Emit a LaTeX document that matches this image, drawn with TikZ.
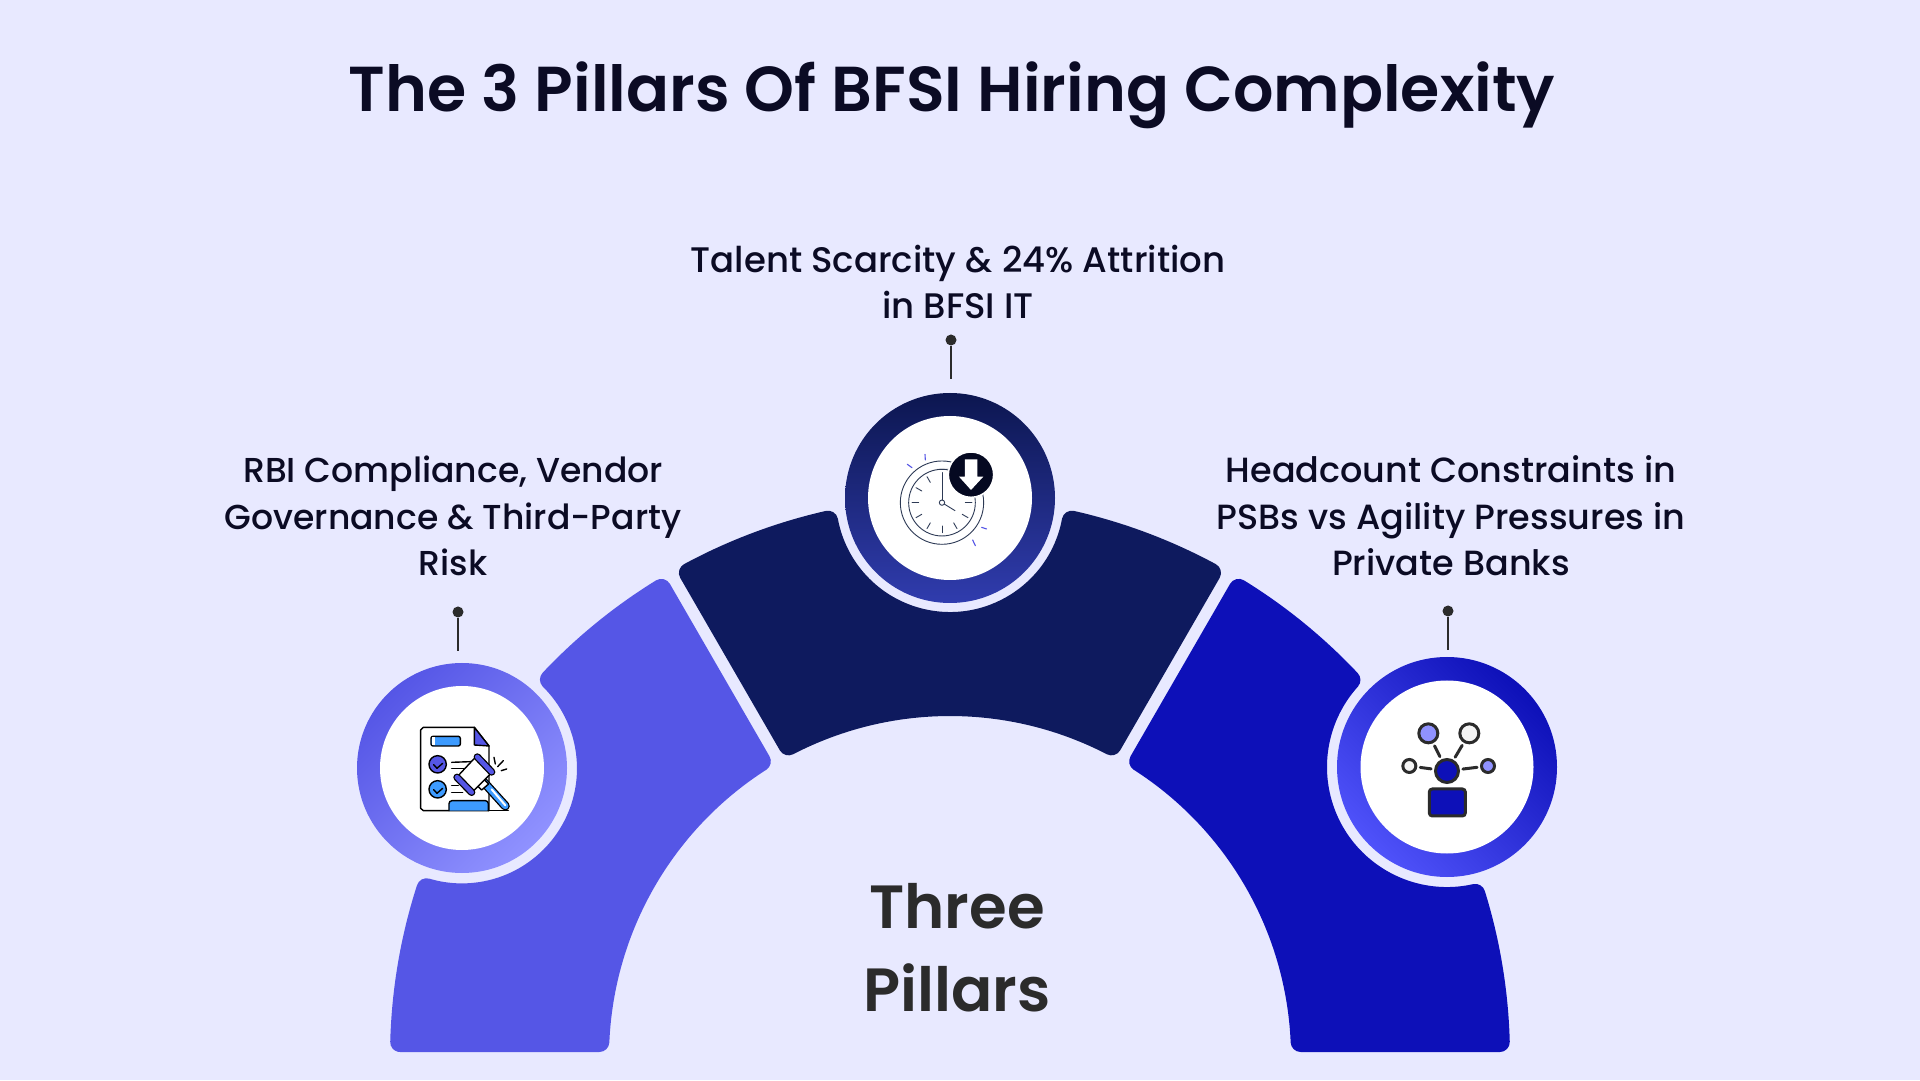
\documentclass[tikz,border=0pt]{standalone}
\usepackage{fontspec}
\setmainfont{Poppins Medium}[BoldFont={Poppins SemiBold}]
\usetikzlibrary{arrows.meta}
\definecolor{pagebg}{HTML}{E8E9FF}
\definecolor{inkdark}{HTML}{0B0B24}
\definecolor{inkgrey}{HTML}{2B2B2B}
\definecolor{leftband}{HTML}{5556E6}
\definecolor{midband}{HTML}{0E1A5E}
\definecolor{rightband}{HTML}{0D10B8}
\definecolor{paleband}{HTML}{9092FF}
\definecolor{midring}{HTML}{303CAE}
\definecolor{brightring}{HTML}{4F52FA}
\definecolor{iconblue}{HTML}{3D9BFF}
\definecolor{clockline}{HTML}{2D3A55}
\tikzset{band/.style = {line width=20pt, line join=round}}
\tikzset{ring/.style = {circle, inner sep=0pt}}
\tikzset{disc/.style = {circle, inner sep=0pt, fill=white}}
\tikzset{label/.style = {align=center, text=inkdark, font=\fontsize{34.6}{46.5}\selectfont}}
\tikzset{pindot/.style = {circle, inner sep=0pt, minimum size=11pt, fill=inkgrey}}
\tikzset{pinline/.style = {draw=inkgrey, line width=2pt}}
\tikzset{iconline/.style = {draw=black, line width=1.4pt, line cap=round, line join=round}}
\tikzset{clockpen/.style = {draw=clockline, line width=0.9pt, line cap=round}}
\tikzset{spark/.style = {draw=leftband, line width=1.1pt, line cap=round}}
\tikzset{hubnode/.style = {circle, inner sep=0pt, draw=inkgrey, line width=3pt}}
\tikzset{hublink/.style = {draw=inkgrey, line width=3pt, line cap=round, shorten >=3pt, shorten <=3pt}}
\begin{document}
\begin{tikzpicture}[x=1pt, y=1pt]
  \useasboundingbox (0,0) rectangle (1920,1080);
  \fill[pagebg] (0,0) rectangle (1920,1080);

  \node [font=\fontsize{63.5}{74}\selectfont\bfseries, text=inkdark] (title) at (952,985) {The 3 Pillars Of BFSI Hiring Complexity};

  \begin{scope}[shift={(950,23)}]
    \path[band, fill=leftband, draw=leftband] (178.44:550pt) -- (177.55:351pt)
      arc[start angle=177.55, end angle=122.61, radius=351pt] -- (121.67:550pt)
      arc[start angle=121.67, end angle=136.67, radius=550pt]
      arc[start angle=45.27, end angle=-106.47, radius=125pt]
      arc[start angle=162.13, end angle=178.44, radius=550pt] -- cycle;
    \path[band, fill=midband, draw=midband] (61.67:550pt)
      arc[start angle=61.67, end angle=77.2, radius=550pt]
      arc[start angle=349.46, end angle=190.54, radius=124pt]
      arc[start angle=102.8, end angle=118.33, radius=550pt] -- (117.39:351pt)
      arc[start angle=117.39, end angle=62.61, radius=351pt] -- cycle;
    \path[band, fill=rightband, draw=rightband] (1.56:550pt)
      arc[start angle=1.56, end angle=17.25, radius=550pt]
      arc[start angle=282.56, end angle=137.96, radius=130pt]
      arc[start angle=43.27, end angle=58.33, radius=550pt] -- (57.39:351pt)
      arc[start angle=57.39, end angle=2.45, radius=351pt] -- cycle;
  \end{scope}

  \node [ring, minimum size=210pt, top color=leftband, bottom color=paleband, shading angle=45] (ringL) at (462,312) {};
  \node [disc, minimum size=164pt] (discL) at (ringL) {};
  \node [ring, minimum size=210pt, top color=midband!85!black, bottom color=midring] (ringM) at (950,582) {};
  \node [disc, minimum size=164pt] (discM) at (ringM) {};
  \node [ring, minimum size=220pt, top color=rightband, bottom color=brightring, shading angle=-45] (ringR) at (1447,313) {};
  \node [disc, minimum size=173pt] (discR) at (ringR) {};

  \node [pindot] (pinL) at (458,468) {};
  \coordinate (pinLend) at (458,429);
  \draw[pinline] (pinL) -- (pinLend);
  \node [pindot] (pinM) at (951,740) {};
  \coordinate (pinMend) at (951,701);
  \draw[pinline] (pinM) -- (pinMend);
  \node [pindot] (pinR) at (1448,469) {};
  \coordinate (pinRend) at (1448,430);
  \draw[pinline] (pinR) -- (pinRend);

  \node [label] (textL) at (453,564) {RBI Compliance, Vendor\\Governance \& Third-Party\\Risk};
  \node [label, font=\fontsize{35.5}{46.5}\selectfont] (textM) at (958,798) {Talent Scarcity \& 24\% Attrition\\in BFSI IT};
  \node [label, font=\fontsize{35}{46.5}\selectfont] (textR) at (1451,564) {Headcount Constraints in\\PSBs vs Agility Pressures in\\Private Banks};

  \node [align=center, text=inkgrey, font=\fontsize{61}{83}\selectfont\bfseries] (centre) at (957,132) {Three\\Pillars};

  \begin{scope}[shift={(340,440)}, x=0.3333pt, y=-0.3333pt]
    \draw[iconline, fill=white] (250,262) -- (403,262) -- (447,318) -- (447,512) -- (250,512) -- (242,505) -- (242,270) -- cycle;
    \draw[iconline, fill=leftband] (403,262) -- (403,315) -- (447,318) -- cycle;
    \draw[iconline, fill=iconblue, rounded corners=2pt] (273,289) rectangle (361,318);
    \fill[white] (276,292) rectangle (284,315);
    \draw[iconline, fill=leftband] (293,373) circle[radius=26];
    \draw[iconline] (281,374) -- (291,385) -- (308,370);
    \draw[iconline, fill=iconblue] (293,448) circle[radius=26];
    \draw[iconline] (281,449) -- (291,460) -- (308,445);
    \draw[iconline] (335,367) -- (393,365);
    \draw[iconline] (335,385) -- (372,385);
    \draw[iconline] (335,437) -- (355,437);
    \draw[iconline] (335,458) -- (368,458);
    \draw[iconline, fill=iconblue, rounded corners=3pt] (327,512) -- (327,482) -- (445,482) -- (445,512);
    \draw[iconline] (445,512) -- (505,512);
    \draw[line width=9pt, draw=black, line cap=round] (430,425) -- (496,498);
    \draw[line width=6.4pt, draw=iconblue, line cap=round] (430,425) -- (496,498);
    \draw[line width=2pt, draw=white, line cap=round] (455,448) -- (496,496);
    \draw[iconline, fill=white] (418,404) -- (446,432) -- (425,450) -- (398,424) -- cycle;
    \draw[iconline, fill=white] (408,350) -- (456,397) -- (395,458) -- (350,412) -- cycle;
    \draw[line width=7.4pt, draw=black, line cap=round] (412,351) -- (455,396);
    \draw[line width=4.8pt, draw=leftband, line cap=round] (412,351) -- (455,396);
    \draw[line width=7.4pt, draw=black, line cap=round] (351,412) -- (395,457);
    \draw[line width=4.8pt, draw=leftband, line cap=round] (351,412) -- (395,457);
    \draw[iconline] (462,352) -- (466,372);
    \draw[iconline] (490,362) -- (473,380);
    \draw[iconline] (500,387) -- (484,392);
  \end{scope}

  \begin{scope}[shift={(830,760)}, x=0.3333pt, y=-0.3333pt]
    \fill[black!8] (336,548) ++(-60:100) arc[start angle=-60, end angle=-140, radius=100] arc[start angle=-140, end angle=-60, radius=112] -- cycle;
    \draw[clockpen] (336,548) circle[radius=125];
    \draw[clockpen] (336,548) circle[radius=100];
    \foreach \tickangle in {0,30,...,330}
      \draw[clockpen] (336,548) ++(\tickangle:70) -- ++(\tickangle:20);
    \draw[clockpen] (336,548) -- (336,460);
    \draw[clockpen] (336,548) -- (375,572);
    \draw[clockpen, fill=white] (336,548) circle[radius=8];
    \draw[spark] (232,433) -- (246,443);
    \draw[spark] (285,403) -- (286,420);
    \draw[spark] (455,622) -- (470,627);
    \draw[spark] (428,660) -- (436,677);
    \draw[draw=white, line width=1.5pt, fill=midband!35!black] (423,464) circle[radius=68];
    \fill[white] (405,418) -- (442,418) -- (442,470) -- (460,470) -- (423,510) -- (387,470) -- (405,470) -- cycle;
  \end{scope}

  \begin{scope}[shift={(1320,440)}, x=0.3333pt, y=-0.3333pt]
    \node [hubnode, minimum size=19pt, fill=paleband] (hubA) at (325,280) {};
    \node [hubnode, minimum size=19pt, fill=black!4] (hubB) at (448,280) {};
    \node [hubnode, minimum size=13pt, fill=black!4] (hubC) at (268,378) {};
    \node [hubnode, minimum size=13pt, fill=paleband] (hubD) at (504,378) {};
    \node [hubnode, minimum size=23pt, fill=rightband] (hubE) at (381,393) {};
    \draw[draw=inkgrey, line width=3pt, fill=rightband, rounded corners=3pt] (328,447) rectangle (436,528);
    \draw[hublink] (hubA) -- (hubE);
    \draw[hublink] (hubB) -- (hubE);
    \draw[hublink] (hubC) -- (hubE);
    \draw[hublink] (hubD) -- (hubE);
  \end{scope}
\end{tikzpicture}
\end{document}
